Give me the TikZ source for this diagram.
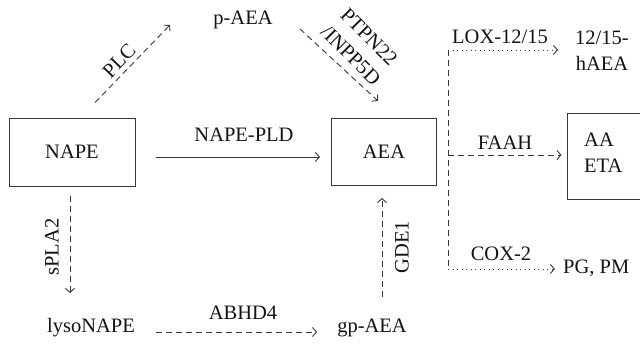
\documentclass[tikz,border=0pt]{standalone}
\usepackage{fontspec}
\setmainfont{Liberation Serif}
\usetikzlibrary{arrows.meta}
\begin{document}
\begin{tikzpicture}[x=1pt,y=-1pt,
  txt/.style={font=\fontsize{20.5}{26}\selectfont, text=black!92, inner sep=2pt},
  box/.style={draw=black!78, line width=1pt, rectangle},
  con/.style={draw=black!78, line width=0.9pt, -{Straight Barb[length=4pt,width=9pt]}},
  plain/.style={draw=black!78, line width=0.9pt},
  dsh/.style={dash pattern=on 6pt off 4pt},
  dts/.style={dash pattern=on 1.2pt off 3.3pt},
]
\useasboundingbox (0,0) rectangle (640,345);
\clip (0,0) rectangle (640,345);

% boxes and texts
\node[box, txt, minimum width=126pt, minimum height=68pt] (nape) at (72,152) {NAPE};
\node[box, txt, minimum width=105pt, minimum height=67pt] (aea) at (384,152) {AEA};
\node[box, minimum width=113pt, minimum height=86pt] (aaeta) at (623.5,156) {};
\node[txt, anchor=west, align=left] (aaetat) at (582,153) {AA\\ETA};
\node[txt] (paea) at (243,20) {p-AEA};
\node[txt, align=center] (h) at (602,51) {12/15-\\hAEA};
\node[txt, anchor=west] (pg) at (561,268) {PG, PM};
\node[txt] (lyso) at (91,328) {lysoNAPE};
\node[txt] (gp) at (372,328) {gp-AEA};

% junction coordinates
\coordinate (vt) at (448,50);
\coordinate (vm) at (448,155);
\coordinate (vb) at (448,269);

% connectors
\draw[con] ([shift={(20,5)}]nape.east) -- ([shift={(-11,5)}]aea.west);
\draw[con, dsh] ([shift={(23,-15)}]nape.north) -- ([shift={(-73,5)}]paea.center);
\draw[con, dsh] ([shift={(57,9)}]paea.center) -- ([shift={(-6,-17)}]aea.north);
\draw[con, dsh] ([shift={(-2,9)}]nape.south) -- ([shift={(-21,-35)}]lyso.center);
\draw[con, dsh] ([shift={(19,4)}]lyso.east) -- ([shift={(-18,4)}]gp.west);
\draw[con, dsh] ([shift={(10,-31)}]gp.center) -- ([shift={(-2,12)}]aea.south);
\draw[plain, dsh] (vt) -- (vb);
\draw[con, dts] (vt) -- ([xshift=-15pt]vt -| h.west);
\draw[con, dsh] (vm) -- ([xshift=-5pt]vm -| aaeta.west);
\draw[con, dts] (vb) -- ([xshift=-6pt]vb -| pg.west);

% labels
\node[txt] (lpld) at (244,135) {NAPE-PLD};
\node[txt, rotate=46] (lplc) at (119,61) {PLC};
\node[txt, rotate=-45, align=center] (lptp) at (360,46) {PTPN22\\/INPP5D};
\node[txt, rotate=90] (lspla) at (52,247) {sPLA2};
\node[txt] (labhd) at (243,313) {ABHD4};
\node[txt, rotate=90] (lgde) at (402,247) {GDE1};
\node[txt] (llox) at (500,37) {LOX-12/15};
\node[txt] (lfaah) at (505,143) {FAAH};
\node[txt] (lcox) at (501,254) {COX-2};
\end{tikzpicture}
\end{document}
